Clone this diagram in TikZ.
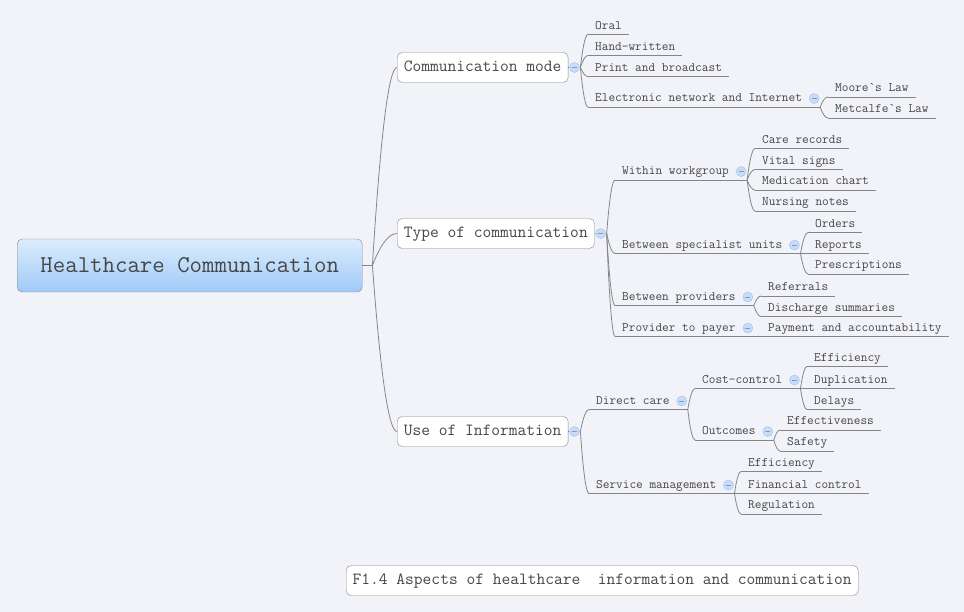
\documentclass[tikz,border=0pt]{standalone}
\usepackage{fontspec}
\usepackage{xcolor}
\usepackage{tikz}
\usetikzlibrary{calc}

\definecolor{paper}{HTML}{F2F3F9}
\definecolor{ink}{HTML}{464646}
\definecolor{wire}{HTML}{868686}
\definecolor{rootTop}{HTML}{DDEDFD}
\definecolor{rootBot}{HTML}{9ECAF7}
\definecolor{foldFill}{HTML}{C9DBF6}
\definecolor{foldEdge}{HTML}{A3BFEB}
\definecolor{foldBar}{HTML}{7A98C9}

\begin{document}
\begin{tikzpicture}[
        x=1pt, y=-1pt,
        every node/.style={text=ink},
        root/.style={draw=wire, rounded corners=5pt, top color=rootTop, bottom color=rootBot, minimum width=345pt, minimum height=53pt, font=\fontsize{24.15pt}{28pt}\selectfont\ttfamily},
        branch/.style={draw=wire, fill=white, rounded corners=5pt, minimum height=30pt, inner xsep=6.7pt, text height=11pt, text depth=3.5pt, font=\fontsize{17pt}{20pt}\selectfont\ttfamily},
        topic/.style={anchor=south west, inner xsep=7pt, inner ysep=2.5pt, text height=9pt, text depth=2.5pt, font=\fontsize{12.95pt}{15pt}\selectfont\ttfamily,
            append after command={(\tikzlastnode.south west) edge[link] (\tikzlastnode.south east)}},
        parent/.style={topic,
            append after command={(\tikzlastnode.south east) edge[link] ([xshift=11pt]\tikzlastnode.south east)}},
        fold/.style={circle, draw=foldEdge, fill=foldFill, minimum size=10pt, inner sep=0pt,
            path picture={\draw[foldBar, line width=1pt] ([xshift=-2.6pt]path picture bounding box.center) -- ([xshift=2.6pt]path picture bounding box.center);}},
        link/.style={draw=wire, line width=0.8pt},
        curvy/.style={to path={($(\tikztostart)!1/3!(\tikztotarget)$) coordinate (cA) ($(\tikztostart)!2/3!(\tikztotarget)$) coordinate (cB)
            (\tikztostart) .. controls (cA |- cB) and (cB |- \tikztotarget) .. (\tikztotarget)}}
    ]

    \fill[paper] (0,0) rectangle (964,612);
    \useasboundingbox (0,0) rectangle (964,612);

    % Nodes
    \node[root, anchor=west] (hc) at (17,265.5) {Healthcare Communication};
    \node[branch, anchor=west] (mode) at (397,67.5) {Communication mode};
    \node[branch, anchor=west] (type) at (397,233.5) {Type of communication};
    \node[branch, anchor=west] (use) at (397,431.5) {Use of Information};

    % Communication mode
    \node[topic] (oral) at (588,34.5) {Oral};
    \node[topic] (hand) at (588,55.5) {Hand-written};
    \node[topic] (print) at (588,76.5) {Print and broadcast};
    \node[parent] (elec) at (588,107) {Electronic network and Internet};
    \node[topic] (moore) at (828,97) {Moore\textasciigrave s Law};
    \node[topic] (metcalfe) at (828,118) {Metcalfe\textasciigrave s Law};

    % Type of communication
    \node[parent] (within) at (615,180) {Within workgroup};
    \node[topic] (care) at (755,148.5) {Care records};
    \node[topic] (vital) at (755,169.5) {Vital signs};
    \node[topic] (medication) at (755,190) {Medication chart};
    \node[topic] (nursing) at (755,211) {Nursing notes};
    \node[parent] (specialist) at (615,253.5) {Between specialist units};
    \node[topic] (orders) at (808,232.5) {Orders};
    \node[topic] (reports) at (808,253.5) {Reports};
    \node[topic] (prescriptions) at (808,274) {Prescriptions};
    \node[parent] (providers) at (615,305.5) {Between providers};
    \node[topic] (referrals) at (761,296) {Referrals};
    \node[topic] (discharge) at (761,316.5) {Discharge summaries};
    \node[parent] (payer) at (615,336.5) {Provider to payer};
    \node[topic] (payment) at (761,336.5) {Payment and accountability};

    % Use of Information
    \node[parent] (direct) at (589,409.5) {Direct care};
    \node[parent] (cost) at (695,388.5) {Cost-control};
    \node[topic] (efficiency) at (807,366.5) {Efficiency};
    \node[topic] (duplication) at (807,388.5) {Duplication};
    \node[topic] (delays) at (807,409.5) {Delays};
    \node[parent] (outcomes) at (695,440) {Outcomes};
    \node[topic] (effectiveness) at (780,430) {Effectiveness};
    \node[topic] (safety) at (780,451) {Safety};
    \node[parent] (service) at (589,493.5) {Service management};
    \node[topic] (efficiency2) at (741,471.5) {Efficiency};
    \node[topic] (financial) at (741,493.5) {Financial control};
    \node[topic] (regulation) at (741,514) {Regulation};

    \node[branch, anchor=west, inner xsep=6.5pt] (caption) at (346,580.5) {F1.4 Aspects of healthcare\ \ information and communication};

    % Junctions
    \coordinate (hc-j) at ([xshift=10pt]hc.east);
    \coordinate (mode-j) at ([xshift=12pt]mode.east);
    \coordinate (type-j) at ([xshift=12pt]type.east);
    \coordinate (use-j) at ([xshift=12pt]use.east);
    \coordinate (elec-j) at ([xshift=11pt]elec.south east);
    \coordinate (within-j) at ([xshift=11pt]within.south east);
    \coordinate (specialist-j) at ([xshift=11pt]specialist.south east);
    \coordinate (providers-j) at ([xshift=11pt]providers.south east);
    \coordinate (payer-j) at ([xshift=11pt]payer.south east);
    \coordinate (direct-j) at ([xshift=11pt]direct.south east);
    \coordinate (cost-j) at ([xshift=11pt]cost.south east);
    \coordinate (outcomes-j) at ([xshift=11pt]outcomes.south east);
    \coordinate (service-j) at ([xshift=11pt]service.south east);

    % Connectors
    \draw[link] (hc.east) -- (hc-j);
    \draw[link] (mode.east) -- (mode-j);
    \draw[link] (type.east) -- (type-j);
    \draw[link] (use.east) -- (use-j);
    \draw[link] (hc-j) to[curvy] (mode.west);
    \draw[link] (hc-j) to[curvy] (type.west);
    \draw[link] (hc-j) to[curvy] (use.west);

    \draw[link] (mode-j) to[curvy] (oral.south west);
    \draw[link] (mode-j) to[curvy] (hand.south west);
    \draw[link] (mode-j) to[curvy] (print.south west);
    \draw[link] (mode-j) to[curvy] (elec.south west);
    \draw[link] (elec-j) to[curvy] (moore.south west);
    \draw[link] (elec-j) to[curvy] (metcalfe.south west);

    \draw[link] (type-j) to[curvy] (within.south west);
    \draw[link] (type-j) to[curvy] (specialist.south west);
    \draw[link] (type-j) to[curvy] (providers.south west);
    \draw[link] (type-j) to[curvy] (payer.south west);
    \draw[link] (within-j) to[curvy] (care.south west);
    \draw[link] (within-j) to[curvy] (vital.south west);
    \draw[link] (within-j) to[curvy] (medication.south west);
    \draw[link] (within-j) to[curvy] (nursing.south west);
    \draw[link] (specialist-j) to[curvy] (orders.south west);
    \draw[link] (specialist-j) to[curvy] (reports.south west);
    \draw[link] (specialist-j) to[curvy] (prescriptions.south west);
    \draw[link] (providers-j) to[curvy] (referrals.south west);
    \draw[link] (providers-j) to[curvy] (discharge.south west);
    \draw[link] (payer-j) -- (payment.south west);

    \draw[link] (use-j) to[curvy] (direct.south west);
    \draw[link] (use-j) to[curvy] (service.south west);
    \draw[link] (direct-j) to[curvy] (cost.south west);
    \draw[link] (direct-j) to[curvy] (outcomes.south west);
    \draw[link] (cost-j) to[curvy] (efficiency.south west);
    \draw[link] (cost-j) to[curvy] (duplication.south west);
    \draw[link] (cost-j) to[curvy] (delays.south west);
    \draw[link] (outcomes-j) to[curvy] (effectiveness.south west);
    \draw[link] (outcomes-j) to[curvy] (safety.south west);
    \draw[link] (service-j) to[curvy] (efficiency2.south west);
    \draw[link] (service-j) to[curvy] (financial.south west);
    \draw[link] (service-j) to[curvy] (regulation.south west);

    % Fold marks
    \node[fold] (mode-fold) at ([xshift=6pt]mode.east) {};
    \node[fold] (type-fold) at ([xshift=6pt]type.east) {};
    \node[fold] (use-fold) at ([xshift=6pt]use.east) {};
    \node[fold] (elec-fold) at ([xshift=5pt]elec.east) {};
    \node[fold] (within-fold) at ([xshift=5pt]within.east) {};
    \node[fold] (specialist-fold) at ([xshift=5pt]specialist.east) {};
    \node[fold] (providers-fold) at ([xshift=5pt]providers.east) {};
    \node[fold] (payer-fold) at ([xshift=5pt]payer.east) {};
    \node[fold] (direct-fold) at ([xshift=5pt]direct.east) {};
    \node[fold] (cost-fold) at ([xshift=5pt]cost.east) {};
    \node[fold] (outcomes-fold) at ([xshift=5pt]outcomes.east) {};
    \node[fold] (service-fold) at ([xshift=5pt]service.east) {};

\end{tikzpicture}
\end{document}
